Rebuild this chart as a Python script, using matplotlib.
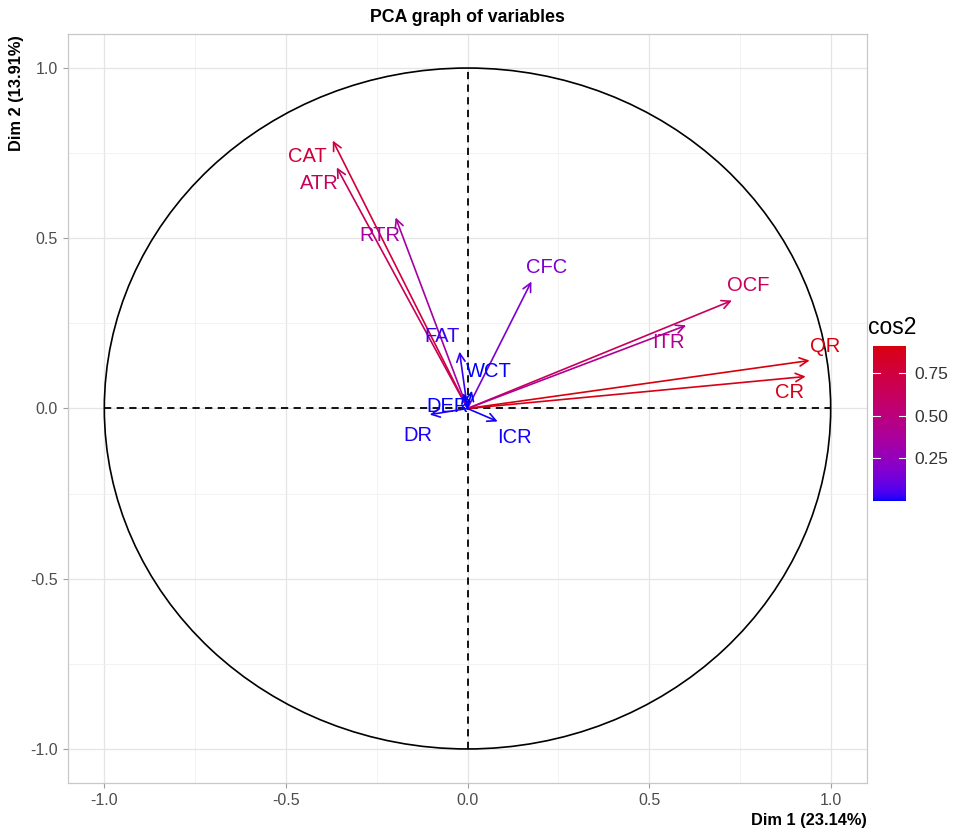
import numpy as np
import matplotlib
matplotlib.use("Agg")
import matplotlib.pyplot as plt
from matplotlib.colors import LinearSegmentedColormap, Normalize
from matplotlib.patches import Circle

plt.rcParams['font.family'] = ['Liberation Sans', 'DejaVu Sans']

# ---- data ----
variables = ["CAT", "ATR", "RTR", "CFC", "OCF", "ITR", "QR", "CR",
             "FAT", "WCT", "DER", "DR", "ICR"]
dim1 = [-0.371, -0.360, -0.198, 0.176, 0.728, 0.602, 0.942, 0.931,
        -0.022, 0.012, -0.012, -0.104, 0.083]
dim2 = [0.787, 0.708, 0.561, 0.373, 0.317, 0.244, 0.141, 0.094,
        0.167, 0.052, 0.045, -0.018, -0.038]
# label positions (repelled text, data coords)
label_x = [-0.440, -0.409, -0.242, 0.217, 0.772, 0.552, 0.984, 0.887,
           -0.069, 0.058, -0.055, -0.137, 0.129]
label_y = [0.740, 0.662, 0.508, 0.414, 0.361, 0.194, 0.182, 0.047,
           0.211, 0.109, 0.005, -0.078, -0.085]
xlabel = "Dim 1 (23.14%)"
ylabel = "Dim 2 (13.91%)"
title = "PCA graph of variables"
cbar_ticks = [0.25, 0.50, 0.75]

# ---- Lab interpolated gradient (blue -> red) ----
def _srgb_to_lab(rgb):
    rgb = np.asarray(rgb, float)
    lin = np.where(rgb <= 0.04045, rgb / 12.92, ((rgb + 0.055) / 1.055) ** 2.4)
    M = np.array([[0.4124, 0.3576, 0.1805],
                  [0.2126, 0.7152, 0.0722],
                  [0.0193, 0.1192, 0.9505]])
    xyz = M @ lin
    wp = np.array([0.95047, 1.0, 1.08883])
    t = xyz / wp
    f = np.where(t > 0.008856, np.cbrt(t), 7.787 * t + 16 / 116)
    return np.array([116 * f[1] - 16, 500 * (f[0] - f[1]), 200 * (f[1] - f[2])])

def _lab_to_srgb(lab):
    L, a, b = lab
    fy = (L + 16) / 116
    fx = fy + a / 500
    fz = fy - b / 200
    def finv(f):
        return np.where(f ** 3 > 0.008856, f ** 3, (f - 16 / 116) / 7.787)
    wp = np.array([0.95047, 1.0, 1.08883])
    xyz = np.array([finv(fx), finv(fy), finv(fz)]) * wp
    Minv = np.array([[3.2406, -1.5372, -0.4986],
                     [-0.9689, 1.8758, 0.0415],
                     [0.0557, -0.2040, 1.0570]])
    lin = Minv @ xyz
    lin = np.clip(lin, 0, 1)
    rgb = np.where(lin <= 0.0031308, 12.92 * lin, 1.055 * lin ** (1 / 2.4) - 0.055)
    return np.clip(rgb, 0, 1)

low = _srgb_to_lab([0.0, 0.0, 1.0])
high = _srgb_to_lab([0.85, 0.0, 0.05])
cols = [_lab_to_srgb(low + (high - low) * t) for t in np.linspace(0, 1, 64)]
cmap = LinearSegmentedColormap.from_list("bluered", cols)

x = np.array(dim1)
y = np.array(dim2)
cos2 = x ** 2 + y ** 2
norm = Normalize(vmin=0.0, vmax=cos2.max())

# ---- figure ----
fig = plt.figure(figsize=(9.57, 8.33), dpi=100)
ax = fig.add_axes([68 / 957, 1 - 783 / 833, 799 / 957, 749 / 833])

ax.set_xlim(-1.1, 1.1)
ax.set_ylim(-1.1, 1.1)
ax.set_xticks([-1.0, -0.5, 0.0, 0.5, 1.0])
ax.set_yticks([-1.0, -0.5, 0.0, 0.5, 1.0])
ax.set_xticks([-0.75, -0.25, 0.25, 0.75], minor=True)
ax.set_yticks([-0.75, -0.25, 0.25, 0.75], minor=True)
ax.set_xticklabels([f"{v:.1f}" for v in [-1.0, -0.5, 0.0, 0.5, 1.0]])
ax.set_yticklabels([f"{v:.1f}" for v in [-1.0, -0.5, 0.0, 0.5, 1.0]])
ax.grid(True, which='major', color='#E5E5E5', lw=0.9)
ax.grid(True, which='minor', color='#F0F0F0', lw=0.6)
ax.set_axisbelow(True)
ax.tick_params(which='major', length=3.5, width=0.8, color='#9E9E9E',
               labelcolor='#4D4D4D', labelsize=11.5, pad=4)
ax.tick_params(which='minor', length=0)
for s in ax.spines.values():
    s.set_color('#C8C8C8')
    s.set_linewidth(0.9)

# circle and dashed axes
ax.add_patch(Circle((0, 0), 1.0, fill=False, color='black', lw=1.2))
ax.plot([-1, 1], [0, 0], ls=(0, (4, 3)), color='black', lw=1.3)
ax.plot([0, 0], [-1, 1], ls=(0, (4, 3)), color='black', lw=1.3)

# arrows and labels
for name, xi, yi, lx, ly, c2 in zip(variables, x, y, label_x, label_y, cos2):
    col = cmap(norm(c2))
    ax.annotate('', xy=(xi, yi), xytext=(0, 0),
                arrowprops=dict(arrowstyle='->,head_length=0.6,head_width=0.3',
                                color=col, lw=1.2, shrinkA=0, shrinkB=0))
    ax.text(lx, ly, name, color=col, fontsize=14.5, ha='center', va='center')

# titles
fig.text((68 + 867) / 2 / 957, 1 - 17 / 833, title, ha='center', va='center',
         fontsize=12.8, fontweight='bold')
fig.text(867 / 957, 1 - 821 / 833, xlabel, ha='right', va='center',
         fontsize=11.8, fontweight='bold')
fig.text(17 / 957, 1 - 35 / 833, ylabel, ha='center', va='top', rotation=90,
         fontsize=11.8, fontweight='bold')

# colorbar
cax = fig.add_axes([873 / 957, 1 - 501 / 833, 33 / 957, 155 / 833])
sm = plt.cm.ScalarMappable(norm=norm, cmap=cmap)
cb = fig.colorbar(sm, cax=cax, ticks=cbar_ticks)
cb.outline.set_visible(False)
cb.ax.set_yticklabels([f"{t:.2f}" for t in cbar_ticks])
cb.ax.tick_params(length=0, labelsize=12.5, labelcolor='#333333', pad=6)
for t in cbar_ticks:
    cax.plot([0, 0.2], [t, t], color='white', lw=0.8, transform=cax.get_yaxis_transform())
    cax.plot([0.8, 1.0], [t, t], color='white', lw=0.8, transform=cax.get_yaxis_transform())
fig.text(868 / 957, 1 - 327 / 833, "cos2", ha='left', va='center', fontsize=16.5)

fig.savefig("out.png", dpi=100)
